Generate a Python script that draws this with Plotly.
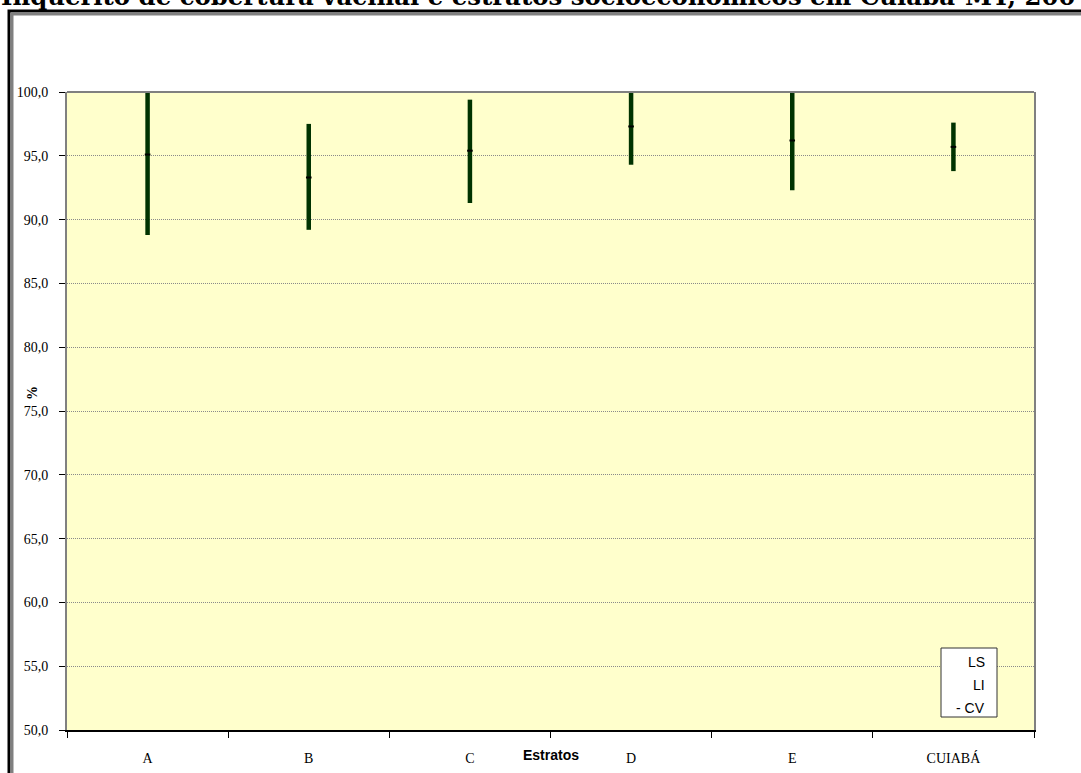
import plotly.graph_objects as go

# Socioeconomic strata and vaccine coverage (%) with confidence limits
estratos = ["A", "B", "C", "D", "E", "CUIABÁ"]
ls = [101.4, 97.5, 99.4, 100.3, 100.1, 97.6]   # upper limit (LS)
li = [88.8, 89.2, 91.3, 94.3, 92.3, 93.8]      # lower limit (LI)
cv = [95.1, 93.3, 95.4, 97.3, 96.2, 95.7]      # coverage (CV)

legend_labels = ["LS", "LI", "- CV"]
y_ticks = [50, 55, 60, 65, 70, 75, 80, 85, 90, 95, 100]

W, H = 1081, 773
L, R, T, B = 67, 47, 92, 43
PW, PH = W - L - R, H - T - B


def px(xp):
    return (xp - L) / PW


def py(yp):
    return (H - B - yp) / PH


# high-low segments built from the limits
seg_x, seg_y = [], []
for cat, lo, hi in zip(estratos, li, ls):
    seg_x += [cat, cat, None]
    seg_y += [lo, hi, None]

fig = go.Figure()
fig.add_trace(go.Scatter(
    x=seg_x, y=seg_y, mode="lines",
    line=dict(color="#003300", width=4.5),
    showlegend=False, hoverinfo="skip", cliponaxis=True,
))
fig.add_trace(go.Scatter(
    x=estratos, y=cv, mode="markers",
    marker=dict(symbol="line-ew", size=4, line=dict(color="black", width=2)),
    showlegend=False,
))

shapes = [
    # outer chart frame (black with gray inner edge), running off the page
    dict(type="rect", xref="paper", yref="paper",
         x0=px(9), x1=px(1200), y0=py(11), y1=py(900),
         line=dict(color="black", width=3), layer="below"),
    dict(type="rect", xref="paper", yref="paper",
         x0=px(12), x1=px(1200), y0=py(14), y1=py(900),
         line=dict(color="#808080", width=3), layer="below"),
    # top border of plot area
    dict(type="line", xref="paper", yref="paper",
         x0=0, x1=1, y0=1, y1=1, line=dict(color="#808080", width=2)),
    # legend box
    dict(type="rect", xref="paper", yref="paper",
         x0=px(941), x1=px(997), y0=py(717), y1=py(648),
         line=dict(color="#333333", width=1), fillcolor="white", layer="above"),
]

annotations = [
    dict(text="<b>Inquérito de cobertura vacinal e estratos socioeconômicos em Cuiabá-MT, 200</b>",
         xref="paper", yref="paper", x=px(-1), y=py(13), xanchor="left", yanchor="bottom",
         showarrow=False, font=dict(family="DejaVu Serif", size=24.4, color="black")),
    dict(text="<b>Estratos</b>", xref="paper", yref="paper", x=px(551), y=py(755),
         xanchor="center", yanchor="middle", showarrow=False,
         font=dict(family="Liberation Sans", size=14, color="black")),
    dict(text="<b>%</b>", xref="paper", yref="paper", x=px(32), y=py(393),
         xanchor="center", yanchor="middle", showarrow=False, textangle=-90,
         font=dict(family="Liberation Serif", size=14, color="black")),
]
for lab, yp in zip(legend_labels, [662, 685, 708]):
    annotations.append(dict(
        text=lab, xref="paper", yref="paper", x=px(987), y=py(yp),
        xanchor="right", yanchor="middle", showarrow=False,
        font=dict(family="Liberation Sans", size=14, color="black")))

fig.update_layout(
    width=W, height=H,
    margin=dict(l=L, r=R, t=T, b=B, autoexpand=False),
    paper_bgcolor="white", plot_bgcolor="#FFFFCC",
    separators=",.",
    showlegend=False,
    shapes=shapes, annotations=annotations,
    xaxis=dict(
        type="category", categoryorder="array", categoryarray=estratos,
        tickson="boundaries", ticks="outside", ticklen=6, tickcolor="black",
        showline=True, linecolor="black", linewidth=2,
        showgrid=False, ticklabelstandoff=14, automargin=False,
        tickfont=dict(family="Liberation Serif", size=14, color="black"),
        range=[-0.5, 5.5], fixedrange=True,
    ),
    yaxis=dict(
        range=[50, 100], tickvals=y_ticks, tickformat=".1f",
        ticks="outside", ticklen=6, tickcolor="black",
        showline=True, linecolor="#808080", linewidth=2, mirror=True,
        showgrid=True, gridcolor="#8a8a8a", griddash="1px,1px", gridwidth=1,
        ticklabelstandoff=8, zeroline=False, automargin=False,
        tickfont=dict(family="Liberation Serif", size=14, color="black"),
    ),
)

fig.write_html("out.html")
